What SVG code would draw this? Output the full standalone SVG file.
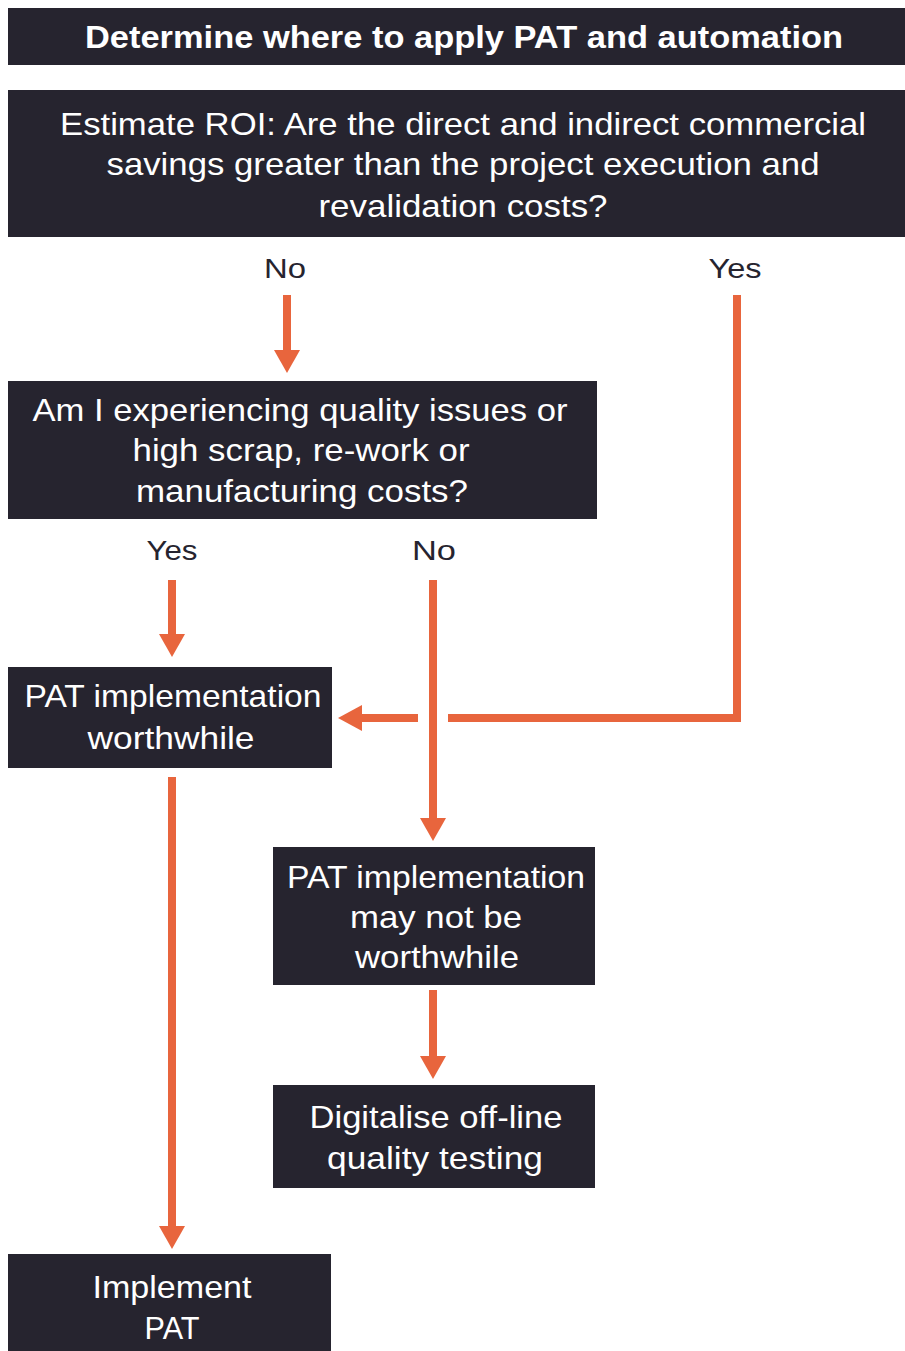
<svg xmlns="http://www.w3.org/2000/svg" width="905" height="1351" viewBox="0 0 905 1351">
<style>
.box{fill:#26242f}
.t{font-family:"Liberation Sans",Arial,sans-serif;font-size:32px;fill:#ffffff;text-anchor:middle}
.tb{font-weight:bold;font-size:31px}
.lbl{font-family:"Liberation Sans",Arial,sans-serif;font-size:27px;fill:#26242f;text-anchor:middle}
.c{stroke:#e8653d;stroke-width:8;fill:none}
.ah{fill:#e8653d}
</style>
<rect width="905" height="1351" fill="#ffffff"/>
<g id="title">
<rect class="box" x="8" y="8" width="897" height="57"/>
<text class="t tb" x="464" y="48" textLength="758" lengthAdjust="spacingAndGlyphs">Determine where to apply PAT and automation</text>
</g>
<g id="roi">
<rect class="box" x="8" y="90" width="897" height="147"/>
<text class="t" x="463" y="135" textLength="806" lengthAdjust="spacingAndGlyphs">Estimate ROI: Are the direct and indirect commercial</text>
<text class="t" x="463" y="175" textLength="713" lengthAdjust="spacingAndGlyphs">savings greater than the project execution and</text>
<text class="t" x="463" y="217" textLength="289" lengthAdjust="spacingAndGlyphs">revalidation costs?</text>
</g>
<g id="quality">
<rect class="box" x="8" y="381" width="589" height="138"/>
<text class="t" x="300" y="421" textLength="535" lengthAdjust="spacingAndGlyphs">Am I experiencing quality issues or</text>
<text class="t" x="301" y="461" textLength="337" lengthAdjust="spacingAndGlyphs">high scrap, re-work or</text>
<text class="t" x="302" y="502" textLength="332" lengthAdjust="spacingAndGlyphs">manufacturing costs?</text>
</g>
<g id="worthwhile">
<rect class="box" x="8" y="667" width="324" height="101"/>
<text class="t" x="173" y="707" textLength="297" lengthAdjust="spacingAndGlyphs">PAT implementation</text>
<text class="t" x="171" y="749" textLength="167" lengthAdjust="spacingAndGlyphs">worthwhile</text>
</g>
<g id="maynot">
<rect class="box" x="273" y="847" width="322" height="138"/>
<text class="t" x="436" y="888" textLength="298" lengthAdjust="spacingAndGlyphs">PAT implementation</text>
<text class="t" x="436" y="928" textLength="172" lengthAdjust="spacingAndGlyphs">may not be</text>
<text class="t" x="437" y="968" textLength="164" lengthAdjust="spacingAndGlyphs">worthwhile</text>
</g>
<g id="digitalise">
<rect class="box" x="273" y="1085" width="322" height="103"/>
<text class="t" x="436" y="1128" textLength="253" lengthAdjust="spacingAndGlyphs">Digitalise off-line</text>
<text class="t" x="435" y="1169" textLength="216" lengthAdjust="spacingAndGlyphs">quality testing</text>
</g>
<g id="implement">
<rect class="box" x="8" y="1254" width="323" height="97"/>
<text class="t" x="172" y="1298" textLength="159" lengthAdjust="spacingAndGlyphs">Implement</text>
<text class="t" x="172" y="1339" textLength="55" lengthAdjust="spacingAndGlyphs">PAT</text>
</g>
<g id="connectors">
<text class="lbl" x="285" y="278" textLength="42" lengthAdjust="spacingAndGlyphs">No</text>
<text class="lbl" x="735" y="278" textLength="53" lengthAdjust="spacingAndGlyphs">Yes</text>
<text class="lbl" x="172" y="560" textLength="51" lengthAdjust="spacingAndGlyphs">Yes</text>
<text class="lbl" x="434" y="560" textLength="44" lengthAdjust="spacingAndGlyphs">No</text>
<line class="c" x1="287" y1="295" x2="287" y2="352"/>
<polygon class="ah" points="274,350 300,350 287,373"/>
<polyline class="c" points="737,295 737,718 448,718"/>
<line class="c" x1="418" y1="718" x2="358" y2="718"/>
<polygon class="ah" points="362,705 362,731 338,718"/>
<line class="c" x1="172" y1="580" x2="172" y2="636"/>
<polygon class="ah" points="159,634 185,634 172,657"/>
<line class="c" x1="433" y1="580" x2="433" y2="820"/>
<polygon class="ah" points="420,818 446,818 433,841"/>
<line class="c" x1="433" y1="990" x2="433" y2="1058"/>
<polygon class="ah" points="420,1056 446,1056 433,1079"/>
<line class="c" x1="172" y1="777" x2="172" y2="1228"/>
<polygon class="ah" points="159,1226 185,1226 172,1249"/>
</g>
</svg>
